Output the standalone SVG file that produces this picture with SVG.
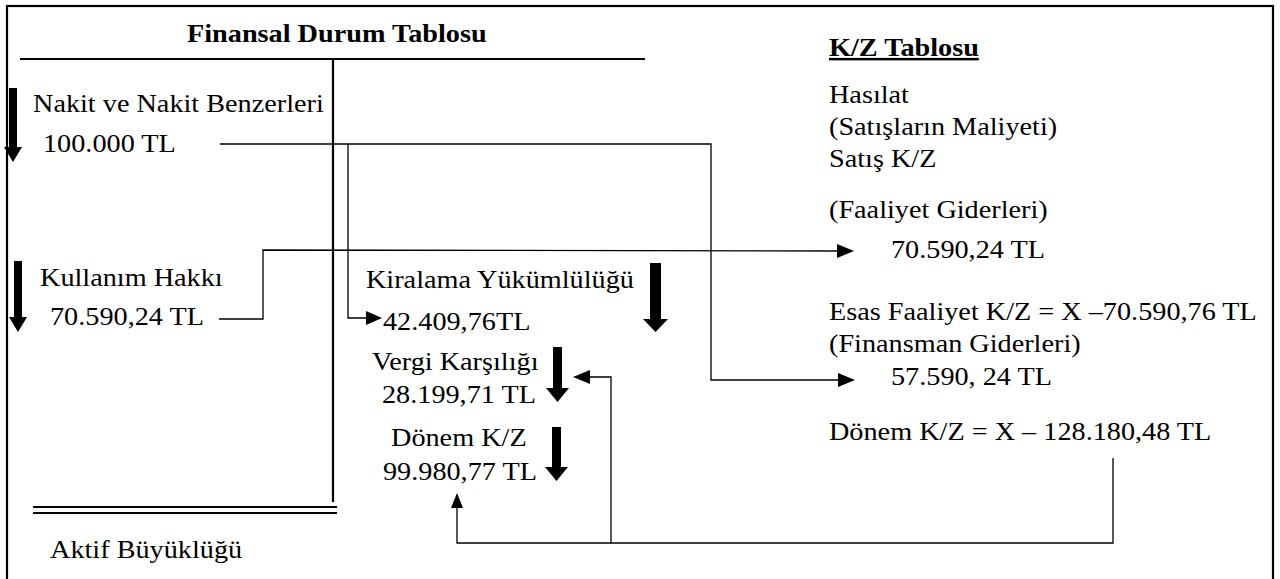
<svg xmlns="http://www.w3.org/2000/svg" width="1280" height="579" viewBox="0 0 1280 579">
<style>
text { font-family: "Liberation Serif", "Times New Roman", serif; font-size: 25px; fill: #000; transform-box: fill-box; transform-origin: 0 0; transform: scaleX(1.13); }
.b { font-weight: bold; }
.u { text-decoration: underline; }
.ln { stroke: #000; fill: none; stroke-width: 2.2; }
.cn { stroke: #000; fill: none; stroke-width: 1.3; }
.ah { fill: #000; }
</style>
<rect x="0" y="0" width="1280" height="579" fill="#fff"/>
<rect x="7" y="6" width="1266" height="580" class="ln"/>

<g id="frame">
  <line x1="20" y1="59" x2="645" y2="59" class="ln"/>
  <line x1="333" y1="59" x2="333" y2="502" class="ln"/>
  <line x1="33" y1="507" x2="337" y2="507" class="ln"/>
  <line x1="33" y1="513" x2="337" y2="513" class="ln"/>
</g>

<g id="titles">
  <text x="187" y="42" class="b">Finansal Durum Tablosu</text>
  <text x="829" y="56" class="b u">K/Z Tablosu</text>
</g>

<g id="nakit">
  <polygon class="ah" points="9,88 17,88 17,147 22,147 13,162 4,147 9,147"/>
  <text x="33" y="112">Nakit ve Nakit Benzerleri</text>
  <text x="43" y="152">100.000 TL</text>
</g>

<g id="kullanim">
  <polygon class="ah" points="14,261 22,261 22,317 27,317 18,332 9,317 14,317"/>
  <text x="40" y="286">Kullanım Hakkı</text>
  <text x="50" y="325">70.590,24 TL</text>
</g>

<g id="kiralama">
  <text x="366" y="288">Kiralama Yükümlülüğü</text>
  <text x="383" y="330">42.409,76TL</text>
  <polygon class="ah" points="650,263 661,263 661,319 668,319 655.5,332 643,319 650,319"/>
</g>

<g id="vergi">
  <text x="372" y="370">Vergi Karşılığı</text>
  <text x="382" y="403">28.199,71 TL</text>
  <polygon class="ah" points="553,347 562,347 562,388 569,388 557.5,402 546,388 553,388"/>
</g>

<g id="donem">
  <text x="391" y="446">Dönem K/Z</text>
  <text x="383" y="480">99.980,77 TL</text>
  <polygon class="ah" points="552,427 561,427 561,467 568,467 556.5,481 545,467 552,467"/>
</g>

<g id="aktif">
  <text x="50" y="558">Aktif Büyüklüğü</text>
</g>

<g id="kz">
  <text x="829" y="103">Hasılat</text>
  <text x="829" y="135">(Satışların Maliyeti)</text>
  <text x="829" y="167">Satış K/Z</text>
  <text x="829" y="218">(Faaliyet Giderleri)</text>
  <text x="891" y="258">70.590,24 TL</text>
  <text x="829" y="320">Esas Faaliyet K/Z = X –70.590,76 TL</text>
  <text x="829" y="352">(Finansman Giderleri)</text>
  <text x="891" y="385">57.590, 24 TL</text>
  <text x="829" y="440">Dönem K/Z = X – 128.180,48 TL</text>
</g>

<g id="connectors">
  <polyline class="cn" points="220,144 711,144 711,380 840,380"/>
  <polygon class="ah" points="855,380 838,373 838,387"/>
  <polyline class="cn" points="348,144 348,318 368,318"/>
  <polygon class="ah" points="382,318 366,311 366,325"/>
  <polyline class="cn" points="219,319 263,319 263,250 840,251"/>
  <polygon class="ah" points="854,251 837,244 837,258"/>
  <polyline class="cn" points="1113,458 1113,543 457,543 457,505"/>
  <polygon class="ah" points="457,493 451,508 463,508"/>
  <polyline class="cn" points="611,543 611,377 588,377"/>
  <polygon class="ah" points="573,377 590,370 590,384"/>
</g>
</svg>
